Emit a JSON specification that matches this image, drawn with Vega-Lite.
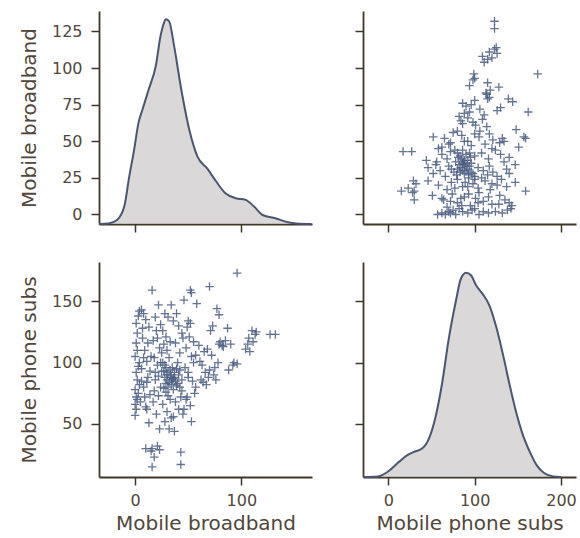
{
  "$schema": "https://vega.github.io/schema/vega-lite/v6.json",
  "background": "white",
  "padding": {"left": 19, "top": 11, "right": 0, "bottom": 0},
  "config": {
    "font": "DejaVu Sans",
    "view": {"stroke": null},
    "axis": {
      "grid": false,
      "domainColor": "#3f3729",
      "domainWidth": 1.8,
      "tickColor": "#3f3729",
      "tickWidth": 1.5,
      "tickSize": 8,
      "labelColor": "#51463a",
      "titleColor": "#51463a",
      "labelFontSize": 16,
      "titleFontSize": 20,
      "titleFontWeight": "normal"
    },
    "axisY": {"labelPadding": 9, "titlePadding": 12},
    "axisX": {"labelPadding": 7, "titlePadding": 5}
  },
  "datasets": {
    "pts": [
      {"B":0,"P":57},{"B":1,"P":62},{"B":0,"P":66},{"B":2,"P":70},{"B":1,"P":72},{"B":3,"P":75},{"B":0,"P":78},{"B":2,"P":86},{"B":1,"P":92},{"B":3,"P":97},{"B":0,"P":105},{"B":2,"P":124},{"B":1,"P":132},{"B":3,"P":138},{"B":4,"P":142},{"B":5,"P":68},{"B":4,"P":82},{"B":2,"P":110},{"B":4,"P":100},{"B":1,"P":116},
      {"B":6,"P":143},{"B":8,"P":140},{"B":10,"P":135},{"B":13,"P":129},{"B":7,"P":120},{"B":9,"P":110},{"B":11,"P":101},{"B":6,"P":95},{"B":12,"P":88},{"B":8,"P":80},{"B":14,"P":74},{"B":10,"P":64},{"B":13,"P":51},{"B":10,"P":30},{"B":16,"P":30},{"B":11,"P":62},{"B":15,"P":105},{"B":7,"P":128},{"B":12,"P":116},{"B":9,"P":72},{"B":6,"P":85},{"B":14,"P":93},{"B":8,"P":104},{"B":11,"P":84},
      {"B":16,"P":159},{"B":16,"P":15},{"B":22,"P":147},{"B":19,"P":137},{"B":24,"P":131},{"B":20,"P":126},{"B":17,"P":118},{"B":23,"P":112},{"B":18,"P":104},{"B":21,"P":98},{"B":25,"P":93},{"B":19,"P":86},{"B":24,"P":80},{"B":22,"P":73},{"B":17,"P":68},{"B":20,"P":58},{"B":23,"P":46},{"B":23,"P":29},{"B":18,"P":23},{"B":21,"P":32},{"B":25,"P":108},{"B":15,"P":28},{"B":19,"P":92},{"B":22,"P":89},{"B":24,"P":100},{"B":18,"P":77},{"B":21,"P":120},
      {"B":26,"P":126},{"B":29,"P":121},{"B":31,"P":137},{"B":34,"P":147},{"B":28,"P":140},{"B":27,"P":115},{"B":30,"P":110},{"B":32,"P":104},{"B":26,"P":100},{"B":29,"P":96},{"B":31,"P":92},{"B":33,"P":90},{"B":28,"P":88},{"B":30,"P":86},{"B":32,"P":84},{"B":34,"P":82},{"B":27,"P":79},{"B":29,"P":76},{"B":31,"P":73},{"B":33,"P":70},{"B":26,"P":66},{"B":30,"P":60},{"B":34,"P":55},{"B":28,"P":52},{"B":32,"P":46},{"B":35,"P":96},{"B":33,"P":117},{"B":27,"P":93},{"B":30,"P":90},{"B":34,"P":88},{"B":29,"P":83},{"B":31,"P":80},{"B":33,"P":94},{"B":35,"P":86},{"B":28,"P":98},
      {"B":36,"P":87},{"B":38,"P":85},{"B":40,"P":83},{"B":42,"P":80},{"B":37,"P":92},{"B":39,"P":95},{"B":41,"P":90},{"B":36,"P":78},{"B":44,"P":77},{"B":43,"P":72},{"B":38,"P":68},{"B":41,"P":62},{"B":36,"P":56},{"B":45,"P":58},{"B":40,"P":100},{"B":42,"P":108},{"B":38,"P":116},{"B":44,"P":124},{"B":41,"P":130},{"B":36,"P":134},{"B":43,"P":27},{"B":43,"P":17},{"B":37,"P":44},{"B":39,"P":140},{"B":45,"P":120},{"B":37,"P":88},{"B":39,"P":81},{"B":42,"P":94},{"B":44,"P":86},
      {"B":46,"P":151},{"B":52,"P":159},{"B":50,"P":134},{"B":49,"P":129},{"B":51,"P":121},{"B":48,"P":112},{"B":53,"P":105},{"B":55,"P":100},{"B":47,"P":96},{"B":50,"P":92},{"B":54,"P":85},{"B":57,"P":80},{"B":48,"P":70},{"B":52,"P":65},{"B":56,"P":75},{"B":58,"P":148},{"B":57,"P":106},{"B":46,"P":62},{"B":53,"P":52},{"B":50,"P":88},{"B":55,"P":117},{"B":53,"P":157},{"B":49,"P":72},{"B":52,"P":132},
      {"B":60,"P":114},{"B":63,"P":98},{"B":65,"P":109},{"B":68,"P":111},{"B":70,"P":162},{"B":71,"P":126},{"B":73,"P":130},{"B":72,"P":106},{"B":66,"P":92},{"B":69,"P":88},{"B":64,"P":84},{"B":67,"P":82},{"B":62,"P":86},{"B":75,"P":96},{"B":77,"P":144},{"B":79,"P":139},{"B":79,"P":115},{"B":78,"P":100},{"B":74,"P":90},{"B":76,"P":86},{"B":70,"P":94},{"B":61,"P":101},
      {"B":82,"P":114},{"B":85,"P":118},{"B":87,"P":128},{"B":90,"P":115},{"B":92,"P":98},{"B":96,"P":99},{"B":96,"P":173},{"B":88,"P":94},{"B":93,"P":100},{"B":80,"P":117},{"B":83,"P":113},
      {"B":104,"P":111},{"B":106,"P":115},{"B":107,"P":120},{"B":110,"P":126},{"B":113,"P":123},{"B":108,"P":109},{"B":111,"P":117},{"B":114,"P":125},{"B":127,"P":123},{"B":132,"P":123}
    ],
    "kdeB": [
      {"x":-34,"d":0},{"x":-25,"d":0.003},{"x":-17,"d":0.02},{"x":-10,"d":0.09},{"x":-5.6,"d":0.23},{"x":-1,"d":0.36},{"x":3,"d":0.49},{"x":7,"d":0.56},{"x":13,"d":0.66},{"x":19.4,"d":0.77},{"x":24,"d":0.92},{"x":27,"d":0.98},{"x":29,"d":1.0},{"x":32,"d":0.99},{"x":36.7,"d":0.87},{"x":43,"d":0.67},{"x":51,"d":0.46},{"x":58.6,"d":0.33},{"x":68,"d":0.27},{"x":76,"d":0.21},{"x":85,"d":0.15},{"x":94.7,"d":0.126},{"x":104,"d":0.118},{"x":112,"d":0.085},{"x":120,"d":0.044},{"x":132,"d":0.028},{"x":145,"d":0.007},{"x":154,"d":0.001},{"x":166,"d":0}
    ],
    "kdeP": [
      {"x":-29,"d":0},{"x":-12,"d":0.003},{"x":0,"d":0.028},{"x":12,"d":0.073},{"x":21.5,"d":0.106},{"x":29,"d":0.122},{"x":39,"d":0.139},{"x":47,"d":0.188},{"x":55,"d":0.3},{"x":62.5,"d":0.465},{"x":70,"d":0.677},{"x":78,"d":0.856},{"x":84,"d":0.97},{"x":90,"d":1.0},{"x":95.7,"d":0.987},{"x":101.6,"d":0.938},{"x":109,"d":0.897},{"x":117,"d":0.84},{"x":125,"d":0.734},{"x":133,"d":0.595},{"x":140.6,"d":0.449},{"x":148,"d":0.318},{"x":156,"d":0.204},{"x":164,"d":0.122},{"x":172,"d":0.057},{"x":180,"d":0.021},{"x":191,"d":0.003},{"x":200,"d":0}
    ]
  },
  "columns": 2,
  "spacing": {"row": 38, "column": 51},
  "bounds": "flush",
  "concat": [
    {
      "width": 213, "height": 213,
      "layer": [
        {
          "data": {"name": "kdeB"},
          "mark": {"type": "area", "interpolate": "monotone", "color": "#cbc8c7", "line": {"color": "#4a5670", "strokeWidth": 2}},
          "encoding": {
            "x": {"field": "x", "type": "quantitative", "scale": {"domain": [-34, 166.5], "nice": false, "zero": false}, "axis": {"values": [0, 100], "labels": false, "title": null}},
            "y": {"field": "d", "type": "quantitative", "scale": {"domain": [0, 1.04], "nice": false}, "axis": null}
          }
        },
        {
          "data": {"name": "pts"},
          "mark": {"type": "point", "opacity": 0},
          "encoding": {
            "x": {"field": "B", "type": "quantitative", "scale": {"domain": [-34, 166.5], "nice": false, "zero": false}, "axis": {"values": [0, 100], "labels": false, "title": null}},
            "y": {"field": "B", "type": "quantitative", "scale": {"domain": [-6.5, 139], "nice": false, "zero": false}, "axis": {"values": [0, 25, 50, 75, 100, 125], "title": "Mobile broadband"}}
          }
        }
      ],
      "resolve": {"scale": {"y": "independent"}}
    },
    {
      "width": 213, "height": 213,
      "data": {"name": "pts"},
      "mark": {"type": "point", "shape": "M-1,0L1,0M0,-1L0,1", "filled": false, "size": 72, "strokeWidth": 1.3, "color": "#4a5d82", "opacity": 0.85},
      "encoding": {
        "x": {"field": "P", "type": "quantitative", "scale": {"domain": [-29.4, 217.4], "nice": false, "zero": false}, "axis": {"values": [0, 100, 200], "labels": false, "title": null}},
        "y": {"field": "B", "type": "quantitative", "scale": {"domain": [-6.5, 139], "nice": false, "zero": false}, "axis": {"values": [0, 25, 50, 75, 100, 125], "labels": false, "title": null}}
      }
    },
    {
      "width": 213, "height": 215,
      "data": {"name": "pts"},
      "mark": {"type": "point", "shape": "M-1,0L1,0M0,-1L0,1", "filled": false, "size": 72, "strokeWidth": 1.3, "color": "#4a5d82", "opacity": 0.85},
      "encoding": {
        "x": {"field": "B", "type": "quantitative", "scale": {"domain": [-34, 166.5], "nice": false, "zero": false}, "axis": {"values": [0, 100], "title": "Mobile broadband"}},
        "y": {"field": "P", "type": "quantitative", "scale": {"domain": [6.8, 182], "nice": false, "zero": false}, "axis": {"values": [50, 100, 150], "title": "Mobile phone subs"}}
      }
    },
    {
      "width": 213, "height": 215,
      "layer": [
        {
          "data": {"name": "kdeP"},
          "mark": {"type": "area", "interpolate": "monotone", "color": "#cbc8c7", "line": {"color": "#4a5670", "strokeWidth": 2}},
          "encoding": {
            "x": {"field": "x", "type": "quantitative", "scale": {"domain": [-29.4, 217.4], "nice": false, "zero": false}, "axis": {"values": [0, 100, 200], "title": "Mobile phone subs"}},
            "y": {"field": "d", "type": "quantitative", "scale": {"domain": [0, 1.052], "nice": false}, "axis": null}
          }
        },
        {
          "data": {"name": "pts"},
          "mark": {"type": "point", "opacity": 0},
          "encoding": {
            "x": {"field": "P", "type": "quantitative", "scale": {"domain": [-29.4, 217.4], "nice": false, "zero": false}, "axis": {"values": [0, 100, 200], "title": "Mobile phone subs"}},
            "y": {"field": "P", "type": "quantitative", "scale": {"domain": [6.8, 182], "nice": false, "zero": false}, "axis": {"values": [50, 100, 150], "labels": false, "title": null}}
          }
        }
      ],
      "resolve": {"scale": {"y": "independent"}}
    }
  ]
}
